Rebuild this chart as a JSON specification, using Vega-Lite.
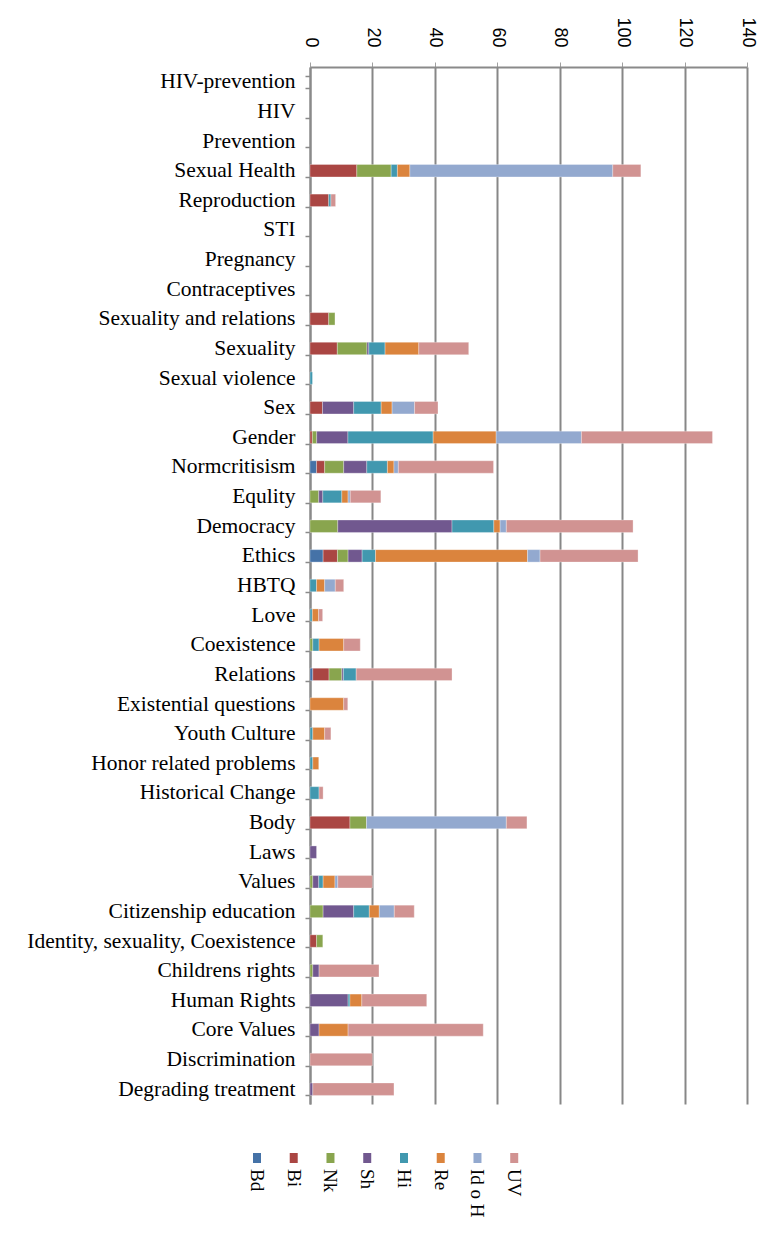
{
  "$schema": "https://vega.github.io/schema/vega-lite/v6.json",
  "padding": {"left": 26, "top": 16, "right": 4, "bottom": 0},
  "autosize": {"type": "pad"},
  "background": "#ffffff",
  "spacing": 49,
  "config": {"view": {"stroke": null}},
  "vconcat": [
    {
      "width": 437,
      "height": 1037,
      "data": {
        "values": [
          {"c": "Sexual Health", "s": "Bi", "o": 2, "v": 15},
          {"c": "Sexual Health", "s": "Nk", "o": 3, "v": 11},
          {"c": "Sexual Health", "s": "Hi", "o": 5, "v": 2},
          {"c": "Sexual Health", "s": "Re", "o": 6, "v": 4},
          {"c": "Sexual Health", "s": "Id o H", "o": 7, "v": 65},
          {"c": "Sexual Health", "s": "UV", "o": 8, "v": 9},
          {"c": "Reproduction", "s": "Bi", "o": 2, "v": 6},
          {"c": "Reproduction", "s": "Hi", "o": 5, "v": 0.7},
          {"c": "Reproduction", "s": "UV", "o": 8, "v": 1.5},
          {"c": "Sexuality and relations", "s": "Bi", "o": 2, "v": 6},
          {"c": "Sexuality and relations", "s": "Nk", "o": 3, "v": 2},
          {"c": "Sexuality", "s": "Bi", "o": 2, "v": 8.75},
          {"c": "Sexuality", "s": "Nk", "o": 3, "v": 9.5},
          {"c": "Sexuality", "s": "Sh", "o": 4, "v": 0.6},
          {"c": "Sexuality", "s": "Hi", "o": 5, "v": 5.2},
          {"c": "Sexuality", "s": "Re", "o": 6, "v": 10.8},
          {"c": "Sexuality", "s": "UV", "o": 8, "v": 16},
          {"c": "Sexual violence", "s": "Hi", "o": 5, "v": 0.8},
          {"c": "Sex", "s": "Bi", "o": 2, "v": 4},
          {"c": "Sex", "s": "Sh", "o": 4, "v": 10},
          {"c": "Sex", "s": "Hi", "o": 5, "v": 8.8},
          {"c": "Sex", "s": "Re", "o": 6, "v": 3.5},
          {"c": "Sex", "s": "Id o H", "o": 7, "v": 7.2},
          {"c": "Sex", "s": "UV", "o": 8, "v": 7.5},
          {"c": "Gender", "s": "Bi", "o": 2, "v": 0.75},
          {"c": "Gender", "s": "Nk", "o": 3, "v": 1.4},
          {"c": "Gender", "s": "Sh", "o": 4, "v": 10},
          {"c": "Gender", "s": "Hi", "o": 5, "v": 27.3},
          {"c": "Gender", "s": "Re", "o": 6, "v": 20.2},
          {"c": "Gender", "s": "Id o H", "o": 7, "v": 27.3},
          {"c": "Gender", "s": "UV", "o": 8, "v": 42},
          {"c": "Normcritisism", "s": "Bd", "o": 1, "v": 2.1},
          {"c": "Normcritisism", "s": "Bi", "o": 2, "v": 2.6},
          {"c": "Normcritisism", "s": "Nk", "o": 3, "v": 6.1},
          {"c": "Normcritisism", "s": "Sh", "o": 4, "v": 7.4},
          {"c": "Normcritisism", "s": "Hi", "o": 5, "v": 6.6},
          {"c": "Normcritisism", "s": "Re", "o": 6, "v": 2.1},
          {"c": "Normcritisism", "s": "Id o H", "o": 7, "v": 1.4},
          {"c": "Normcritisism", "s": "UV", "o": 8, "v": 30.5},
          {"c": "Equlity", "s": "Nk", "o": 3, "v": 2.8},
          {"c": "Equlity", "s": "Sh", "o": 4, "v": 1.3},
          {"c": "Equlity", "s": "Hi", "o": 5, "v": 6.1},
          {"c": "Equlity", "s": "Re", "o": 6, "v": 2},
          {"c": "Equlity", "s": "Id o H", "o": 7, "v": 0.7},
          {"c": "Equlity", "s": "UV", "o": 8, "v": 9.8},
          {"c": "Democracy", "s": "Nk", "o": 3, "v": 8.9},
          {"c": "Democracy", "s": "Sh", "o": 4, "v": 36.6},
          {"c": "Democracy", "s": "Hi", "o": 5, "v": 13.4},
          {"c": "Democracy", "s": "Re", "o": 6, "v": 2},
          {"c": "Democracy", "s": "Id o H", "o": 7, "v": 2},
          {"c": "Democracy", "s": "UV", "o": 8, "v": 40.6},
          {"c": "Ethics", "s": "Bd", "o": 1, "v": 4.2},
          {"c": "Ethics", "s": "Bi", "o": 2, "v": 4.6},
          {"c": "Ethics", "s": "Nk", "o": 3, "v": 3.4},
          {"c": "Ethics", "s": "Sh", "o": 4, "v": 4.5},
          {"c": "Ethics", "s": "Hi", "o": 5, "v": 4.3},
          {"c": "Ethics", "s": "Re", "o": 6, "v": 48.7},
          {"c": "Ethics", "s": "Id o H", "o": 7, "v": 4},
          {"c": "Ethics", "s": "UV", "o": 8, "v": 31.4},
          {"c": "HBTQ", "s": "Hi", "o": 5, "v": 2.1},
          {"c": "HBTQ", "s": "Re", "o": 6, "v": 2.6},
          {"c": "HBTQ", "s": "Id o H", "o": 7, "v": 3.4},
          {"c": "HBTQ", "s": "UV", "o": 8, "v": 2.7},
          {"c": "Love", "s": "Hi", "o": 5, "v": 0.75},
          {"c": "Love", "s": "Re", "o": 6, "v": 2},
          {"c": "Love", "s": "UV", "o": 8, "v": 1.3},
          {"c": "Coexistence", "s": "Nk", "o": 3, "v": 0.9},
          {"c": "Coexistence", "s": "Hi", "o": 5, "v": 2},
          {"c": "Coexistence", "s": "Re", "o": 6, "v": 7.9},
          {"c": "Coexistence", "s": "UV", "o": 8, "v": 5.3},
          {"c": "Relations", "s": "Bd", "o": 1, "v": 0.9},
          {"c": "Relations", "s": "Bi", "o": 2, "v": 5.2},
          {"c": "Relations", "s": "Nk", "o": 3, "v": 4.1},
          {"c": "Relations", "s": "Sh", "o": 4, "v": 0.5},
          {"c": "Relations", "s": "Hi", "o": 5, "v": 4.1},
          {"c": "Relations", "s": "UV", "o": 8, "v": 30.7},
          {"c": "Existential questions", "s": "Re", "o": 6, "v": 10.8},
          {"c": "Existential questions", "s": "UV", "o": 8, "v": 1.3},
          {"c": "Youth Culture", "s": "Hi", "o": 5, "v": 0.9},
          {"c": "Youth Culture", "s": "Re", "o": 6, "v": 3.8},
          {"c": "Youth Culture", "s": "UV", "o": 8, "v": 2},
          {"c": "Honor related problems", "s": "Hi", "o": 5, "v": 0.9},
          {"c": "Honor related problems", "s": "Re", "o": 6, "v": 1.9},
          {"c": "Historical Change", "s": "Hi", "o": 5, "v": 2.9},
          {"c": "Historical Change", "s": "UV", "o": 8, "v": 1.3},
          {"c": "Body", "s": "Bi", "o": 2, "v": 12.8},
          {"c": "Body", "s": "Nk", "o": 3, "v": 5.3},
          {"c": "Body", "s": "Id o H", "o": 7, "v": 44.8},
          {"c": "Body", "s": "UV", "o": 8, "v": 6.6},
          {"c": "Laws", "s": "Sh", "o": 4, "v": 2.1},
          {"c": "Values", "s": "Nk", "o": 3, "v": 0.9},
          {"c": "Values", "s": "Sh", "o": 4, "v": 1.9},
          {"c": "Values", "s": "Hi", "o": 5, "v": 1.4},
          {"c": "Values", "s": "Re", "o": 6, "v": 3.8},
          {"c": "Values", "s": "Id o H", "o": 7, "v": 0.9},
          {"c": "Values", "s": "UV", "o": 8, "v": 11.1},
          {"c": "Citizenship education", "s": "Nk", "o": 3, "v": 4.2},
          {"c": "Citizenship education", "s": "Sh", "o": 4, "v": 9.8},
          {"c": "Citizenship education", "s": "Hi", "o": 5, "v": 5},
          {"c": "Citizenship education", "s": "Re", "o": 6, "v": 3.2},
          {"c": "Citizenship education", "s": "Id o H", "o": 7, "v": 4.8},
          {"c": "Citizenship education", "s": "UV", "o": 8, "v": 6.4},
          {"c": "Identity, sexuality, Coexistence", "s": "Bi", "o": 2, "v": 2.1},
          {"c": "Identity, sexuality, Coexistence", "s": "Nk", "o": 3, "v": 2},
          {"c": "Childrens rights", "s": "Nk", "o": 3, "v": 0.9},
          {"c": "Childrens rights", "s": "Sh", "o": 4, "v": 2},
          {"c": "Childrens rights", "s": "UV", "o": 8, "v": 19.2},
          {"c": "Human Rights", "s": "Sh", "o": 4, "v": 12.2},
          {"c": "Human Rights", "s": "Hi", "o": 5, "v": 0.6},
          {"c": "Human Rights", "s": "Re", "o": 6, "v": 3.8},
          {"c": "Human Rights", "s": "UV", "o": 8, "v": 20.8},
          {"c": "Core Values", "s": "Sh", "o": 4, "v": 2.9},
          {"c": "Core Values", "s": "Re", "o": 6, "v": 9.3},
          {"c": "Core Values", "s": "UV", "o": 8, "v": 43.3},
          {"c": "Discrimination", "s": "UV", "o": 8, "v": 20},
          {"c": "Degrading treatment", "s": "Sh", "o": 4, "v": 0.9},
          {"c": "Degrading treatment", "s": "UV", "o": 8, "v": 26}
        ]
      },
      "mark": {"type": "bar", "stroke": "#ffffff", "strokeWidth": 0.6, "strokeOpacity": 0.5},
      "encoding": {
        "y": {
          "field": "c",
          "type": "nominal",
          "sort": null,
          "scale": {
            "domain": ["HIV-prevention", "HIV", "Prevention", "Sexual Health", "Reproduction", "STI", "Pregnancy", "Contraceptives", "Sexuality and relations", "Sexuality", "Sexual violence", "Sex", "Gender", "Normcritisism", "Equlity", "Democracy", "Ethics", "HBTQ", "Love", "Coexistence", "Relations", "Existential questions", "Youth Culture", "Honor related problems", "Historical Change", "Body", "Laws", "Values", "Citizenship education", "Identity, sexuality, Coexistence", "Childrens rights", "Human Rights", "Core Values", "Discrimination", "Degrading treatment"],
            "paddingInner": 0.58,
            "paddingOuter": 0.29
          },
          "axis": {
            "title": null,
            "orient": "left",
            "labelFont": "Liberation Serif",
            "labelFontSize": 21.5,
            "labelColor": "#000000",
            "labelLimit": 400,
            "labelPadding": 10,
            "tickBand": "extent",
            "tickSize": 5,
            "tickColor": "#8a8a8a",
            "tickWidth": 1.5,
            "domainColor": "#8a8a8a",
            "domainWidth": 2,
            "grid": false
          }
        },
        "x": {
          "field": "v",
          "type": "quantitative",
          "stack": "zero",
          "scale": {"domain": [0, 140], "nice": false},
          "axis": {
            "title": null,
            "orient": "top",
            "values": [0, 20, 40, 60, 80, 100, 120, 140],
            "labelAngle": 90,
            "labelAlign": "right",
            "labelBaseline": "middle",
            "labelFont": "Liberation Sans",
            "labelFontSize": 18,
            "labelColor": "#000000",
            "labelPadding": 15,
            "labelFlush": false,
            "labelOverlap": false,
            "tickSize": 5,
            "tickColor": "#a0a0a0",
            "domainColor": "#8a8a8a",
            "domainWidth": 2,
            "grid": true,
            "gridColor": "#878787",
            "gridWidth": 2
          }
        },
        "color": {
          "field": "s",
          "type": "nominal",
          "scale": {
            "domain": ["Bd", "Bi", "Nk", "Sh", "Hi", "Re", "Id o H", "UV"],
            "range": ["#4572A7", "#AA4643", "#89A54E", "#71588F", "#4198AF", "#DB843D", "#93A9CF", "#D19392"]
          },
          "legend": null
        },
        "order": {"field": "o", "type": "quantitative"}
      }
    },
    {
      "width": 223,
      "height": 10,
      "data": {
        "values": [
          {"s": "Bd"}, {"s": "Bi"}, {"s": "Nk"}, {"s": "Sh"},
          {"s": "Hi"}, {"s": "Re"}, {"s": "Id o H"}, {"s": "UV"}
        ]
      },
      "encoding": {
        "x": {
          "field": "s",
          "type": "nominal",
          "sort": null,
          "axis": null,
          "scale": {"domain": ["Bd", "Bi", "Nk", "Sh", "Hi", "Re", "Id o H", "UV"], "range": [-71.4, 222.6]}
        }
      },
      "layer": [
        {
          "mark": {"type": "point", "shape": "M-0.4,-0.5H0.4V0.5H-0.4Z", "size": 400, "filled": true, "opacity": 1},
          "encoding": {
            "color": {
              "field": "s",
              "type": "nominal",
              "scale": {
                "domain": ["Bd", "Bi", "Nk", "Sh", "Hi", "Re", "Id o H", "UV"],
                "range": ["#4572A7", "#AA4643", "#89A54E", "#71588F", "#4198AF", "#DB843D", "#93A9CF", "#D19392"]
              },
              "legend": null
            }
          }
        },
        {
          "mark": {"type": "text", "angle": 90, "align": "left", "baseline": "middle", "dx": 11, "font": "Liberation Serif", "fontSize": 19, "color": "#000000"},
          "encoding": {"text": {"field": "s"}}
        }
      ]
    }
  ]
}
